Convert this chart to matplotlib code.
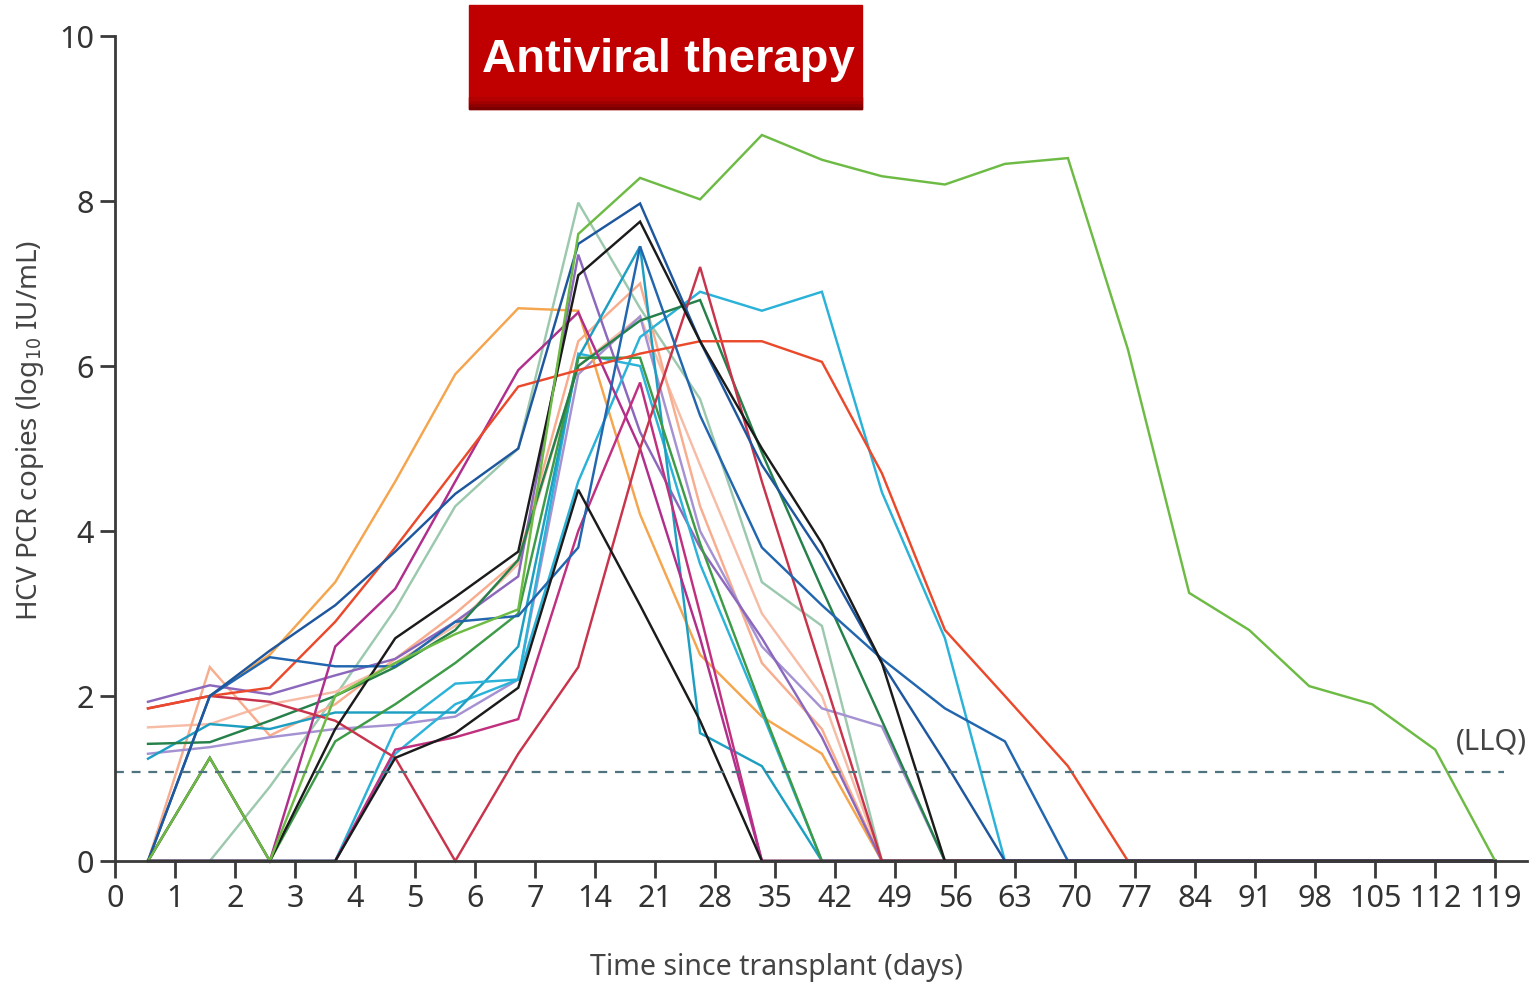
import numpy as np
import matplotlib.pyplot as plt
from matplotlib.patches import Rectangle

plt.rcParams['font.family'] = ['Noto Sans', 'DejaVu Sans']
plt.rcParams['font.stretch'] = 'condensed'

# x axis categories (days since transplant)
day_labels = ['0', '1', '2', '3', '4', '5', '6', '7', '14', '21', '28', '35', '42',
              '49', '56', '63', '70', '77', '84', '91', '98', '105', '112', '119']
# sampling points, in category units
sample_pos = [0.55, 1.58, 2.58, 3.67, 4.67, 5.67, 6.72, 7.72, 8.75, 9.75, 10.78, 11.78,
              12.78, 13.83, 14.83, 15.88, 16.88, 17.9, 18.9, 19.9, 20.95, 22.0, 23.0]

n = np.nan
# log10 IU/mL per patient
lgreen = [0, 1.25, 0, 2.0, 2.4, 2.75, 3.05, 7.6, 8.28, 8.02, 8.8, 8.5, 8.3, 8.2, 8.45, 8.52, 6.2, 3.25, 2.8, 2.12, 1.9, 1.35, 0]
blue2 = [0, 2.0, 2.55, 3.1, 3.75, 4.45, 5.0, 7.48, 7.97, 6.3, 4.8, 3.7, 2.4, 1.2, 0, 0, 0, 0, 0, 0, 0, 0, 0]
blue1 = [0, 2.0, 2.47, 2.36, 2.36, 2.9, 2.97, 3.8, 7.45, 5.4, 3.8, 3.1, 2.45, 1.85, 1.45, 0, 0, 0, 0, 0, 0, 0, 0]
orange = [n, 2.0, 2.5, 3.38, 4.6, 5.9, 6.7, 6.67, 4.2, 2.5, 1.75, 1.3, 0, 0, 0, 0, 0, 0, 0, 0, 0, 0, 0]
redorange = [1.85, 2.0, 2.1, 2.9, 3.8, 4.75, 5.75, 5.95, 6.15, 6.3, 6.3, 6.05, 4.7, 2.8, 2.0, 1.15, 0, 0, 0, 0, 0, 0, 0]
crimson = [1.85, 2.0, 1.93, 1.7, 1.25, 0, 1.3, 2.35, 5.0, 7.2, 4.6, 2.3, 0, 0, 0, 0, 0, 0, 0, 0, 0, 0, 0]
purple = [1.93, 2.13, 2.02, 2.25, 2.45, 2.9, 3.45, 7.35, 5.2, 3.8, 2.7, 1.5, 0, 0, 0, 0, 0, 0, 0, 0, 0, 0, 0]
lavender = [1.3, 1.38, 1.5, 1.6, 1.65, 1.75, 2.2, 5.9, 6.6, 4.0, 2.6, 1.85, 1.63, 0, 0, 0, 0, 0, 0, 0, 0, 0, 0]
peach1 = [0, 2.35, 1.52, 1.9, 2.45, 3.0, 3.65, 6.3, 7.0, 4.3, 2.4, 1.6, 0, 0, 0, 0, 0, 0, 0, 0, 0, 0, 0]
peach2 = [1.62, 1.66, 1.9, 2.05, 2.4, 2.85, 3.6, 6.0, 6.6, 4.8, 3.0, 2.0, 0, 0, 0, 0, 0, 0, 0, 0, 0, 0, 0]
cyan = [0, 0, 0, 0, 1.6, 2.15, 2.2, 4.6, 6.35, 6.9, 6.67, 6.9, 4.47, 2.7, 0, 0, 0, 0, 0, 0, 0, 0, 0]
teal = [1.24, 1.66, 1.6, 1.8, 1.8, 1.8, 2.6, 6.1, 7.45, 1.55, 1.15, 0, 0, 0, 0, 0, 0, 0, 0, 0, 0, 0, 0]
cyan3 = [0, 0, 0, 0, 1.3, 1.9, 2.2, 6.15, 6.0, 3.6, 1.8, 0, 0, 0, 0, 0, 0, 0, 0, 0, 0, 0, 0]
dgreen = [1.42, 1.44, 1.7, 2.0, 2.35, 2.8, 3.65, 6.0, 6.55, 6.8, 4.95, 3.3, 1.7, 0, 0, 0, 0, 0, 0, 0, 0, 0, 0]
green2 = [0, 0, 0, 1.45, 1.9, 2.4, 3.0, 6.1, 6.1, 3.85, 1.85, 0, 0, 0, 0, 0, 0, 0, 0, 0, 0, 0, 0]
magenta = [0, 0, 0, 2.6, 3.3, 4.6, 5.95, 6.65, 5.0, 2.7, 0, 0, 0, 0, 0, 0, 0, 0, 0, 0, 0, 0, 0]
magenta2 = [0, 0, 0, 0, 1.35, 1.5, 1.72, 4.0, 5.8, 3.0, 0, 0, 0, 0, 0, 0, 0, 0, 0, 0, 0, 0, 0]
sage = [n, 0, 0.9, 2.0, 3.05, 4.3, 5.0, 7.98, 6.7, 5.6, 3.38, 2.85, 0, 0, 0, 0, 0, 0, 0, 0, 0, 0, 0]
black1 = [0, 1.25, 0, 1.6, 2.7, 3.2, 3.75, 7.1, 7.75, 6.3, 5.0, 3.85, 2.4, 0, 0, 0, 0, 0, 0, 0, 0, 0, 0]
black2 = [0, 0, 0, 0, 1.25, 1.55, 2.1, 4.5, 3.1, 1.7, 0, 0, 0, 0, 0, 0, 0, 0, 0, 0, 0, 0, 0]

llq = 1.08

series = [
    (sage, '#9cc9ae'), (peach2, '#f6bca6'), (peach1, '#f7ad8e'), (lavender, '#a592d2'),
    (orange, '#f5a54d'), (purple, '#8c68bd'), (cyan3, '#2cb3da'), (teal, '#1d9fc2'),
    (cyan, '#2ab2d8'), (green2, '#3d9b47'), (dgreen, '#25804a'), (magenta2, '#c0307f'),
    (magenta, '#b02e8c'), (crimson, '#c8344c'), (redorange, '#ea4a2b'), (blue1, '#2166ae'),
    (blue2, '#1f579e'), (black1, '#1b1b1b'), (lgreen, '#6dbb45'), (black2, '#1b1b1b'),
]

fig = plt.figure(figsize=(15.38, 9.87), dpi=100)
ax = fig.add_axes([115 / 1538, 125 / 987, 1412 / 1538, 825 / 987])

for vals, col in series:
    ax.plot(sample_pos, vals, color=col, lw=1.75, solid_joinstyle='miter', clip_on=False)

ax.axhline(llq, xmin=0, xmax=23.15 / 23.53, color='#4f7480', lw=1.6, ls=(0, (4, 3.5)))
ax.text(23.53, llq + 0.2, '(LLQ)', ha='right', va='bottom', fontsize=21, color='#444444')

ax.set_xlim(0, 23.53)
ax.set_ylim(0, 10)
ax.set_xticks(range(len(day_labels)))
ax.set_xticklabels(day_labels)
ax.set_yticks([0, 2, 4, 6, 8, 10])
ax.spines['top'].set_visible(False)
ax.spines['right'].set_visible(False)
for s in ['left', 'bottom']:
    ax.spines[s].set_color('#3a3a3a')
    ax.spines[s].set_linewidth(2)
ax.tick_params(axis='x', length=12, width=2, color='#3a3a3a', labelsize=22,
               labelcolor='#333333', pad=4)
ax.tick_params(axis='y', length=11, width=2, color='#3a3a3a', labelsize=22,
               labelcolor='#333333', pad=4)

fig.text(30 / 1538, 1 - 430 / 987, 'HCV PCR copies (log$_{10}$ IU/mL)', rotation=90,
         ha='center', va='center', fontsize=20, color='#444444')
fig.text(776 / 1538, 1 - 968 / 987, 'Time since transplant (days)',
         ha='center', va='center', fontsize=20.5, color='#444444')

# red banner with darker bottom edge
bx, bw = 469 / 1538, 393 / 1538
fig.patches.append(Rectangle((bx, 1 - 110 / 987), bw, 104 / 987,
                             transform=fig.transFigure, color='#c00000', zorder=5))
for i, c in enumerate(['#7a0000', '#8e0000', '#a20000', '#b30000']):
    fig.patches.append(Rectangle((bx, 1 - (110 - 3 * i) / 987), bw, 3 / 987,
                                 transform=fig.transFigure, color=c, zorder=6))
fig.text(668 / 1538, 1 - 60 / 987, 'Antiviral therapy', ha='center', va='center',
         fontsize=34, color='white', fontweight='bold', family='Liberation Sans',
         fontstretch='normal', zorder=7)

fig.savefig('out.png', dpi=100)
